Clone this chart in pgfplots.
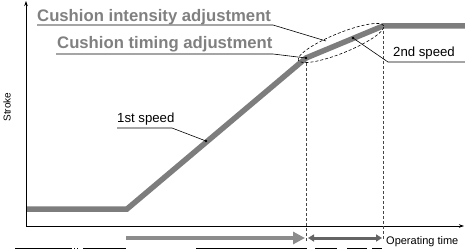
\documentclass[border=0pt]{standalone}
\usepackage{pgfplots}
\pgfplotsset{compat=1.18}
\usepackage{fontspec}
\setmainfont{Liberation Sans}
\usetikzlibrary{arrows.meta}
\definecolor{strokegray}{RGB}{125,125,125}
\definecolor{textgray}{RGB}{128,128,128}
\definecolor{arrowlight}{RGB}{140,140,140}
\definecolor{arrowdark}{RGB}{100,100,100}
\definecolor{dashgray}{RGB}{70,70,70}
\begin{document}
\begin{tikzpicture}
\begin{axis}[name=ax, at={(0,0)}, anchor=south west,
  scale only axis, width=465pt, height=249pt,
  xmin=0, xmax=465, ymin=0, ymax=249,
  hide axis, clip=true]
% axes
\draw[line width=0.8pt, -{Stealth[length=5pt,width=3.5pt]}] (axis cs:26,23) -- (axis cs:26,248);
\draw[line width=0.8pt, -{Stealth[length=5pt,width=3.5pt]}] (axis cs:26,23) -- (axis cs:464,23);
% dashed verticals
\draw[dashgray, line width=0.7pt, dash pattern=on 3pt off 2pt] (axis cs:306,191) -- (axis cs:306,8);
\draw[dashgray, line width=0.7pt, dash pattern=on 3pt off 2pt] (axis cs:383,223) -- (axis cs:383,10);
% stroke line
\addplot[strokegray, line width=5.5pt, line join=miter, mark=none] coordinates {
 (27,40) (127,40) (306,191) (383,223) (470,223)};
% ellipse
\draw[black, line width=0.6pt, dash pattern=on 3pt off 2pt, rotate around={22:(axis cs:341,206)}]
  (axis cs:341,206) ellipse [x radius=46pt, y radius=10pt];
% bottom arrows
\draw[arrowlight, line width=4.5pt, -{Triangle[length=12pt,width=12pt]}] (axis cs:126,11) -- (axis cs:305,11);
\draw[arrowdark, line width=3pt, {Triangle[length=6pt,width=7pt]}-{Triangle[length=6pt,width=7pt]}] (axis cs:308,11) -- (axis cs:382,11);
\node[anchor=base west, inner sep=0pt, font=\fontsize{11}{13}\selectfont] at (axis cs:386,5) {Operating time};
% y label
\node[rotate=90, inner sep=0pt, font=\fontsize{10}{12}\selectfont] at (axis cs:7,142) {Stroke};
% leader lines
\draw[line width=0.6pt] (axis cs:37,224) -- (axis cs:273,224) -- (axis cs:326,208);
\draw[line width=0.6pt] (axis cs:56,195) -- (axis cs:273,195) -- (axis cs:306,191);
\fill (axis cs:306,191) circle [radius=1.3pt];
\draw[line width=0.6pt] (axis cs:117,121) -- (axis cs:172,121) -- (axis cs:206,108);
\fill (axis cs:206,108) circle [radius=1.3pt];
\draw[line width=0.6pt] (axis cs:466,187) -- (axis cs:388,187) -- (axis cs:353,211);
\fill (axis cs:353,211) circle [radius=1.3pt];
% texts
\node[anchor=base west, inner sep=0pt, textgray, font=\fontsize{16.7}{19}\selectfont\bfseries] at (axis cs:37,227) {Cushion intensity adjustment};
\node[anchor=base west, inner sep=0pt, textgray, font=\fontsize{16.7}{19}\selectfont\bfseries] at (axis cs:57,200) {Cushion timing adjustment};
\node[anchor=base west, inner sep=0pt, font=\fontsize{13.2}{15}\selectfont] at (axis cs:117,126) {1st speed};
\node[anchor=base west, inner sep=0pt, font=\fontsize{13.2}{15}\selectfont] at (axis cs:393,192) {2nd speed};
% cropped fragments at bottom edge
\fill (axis cs:15,0) rectangle (axis cs:72,1.5);
\fill (axis cs:73.5,0) rectangle (axis cs:74.5,1.5);
\fill (axis cs:76.5,0) rectangle (axis cs:77.5,1.5);
\fill (axis cs:83,0) rectangle (axis cs:126,1.5);
\fill (axis cs:196,0) rectangle (axis cs:307,1.5);
\fill (axis cs:315,0) rectangle (axis cs:337,1.5);
\fill (axis cs:347,0) rectangle (axis cs:367,1.5);
\fill (axis cs:372,0) rectangle (axis cs:382,1.5);
\end{axis}
\pgfresetboundingbox
\useasboundingbox (ax.south west) rectangle (ax.north east);
\end{tikzpicture}
\end{document}
